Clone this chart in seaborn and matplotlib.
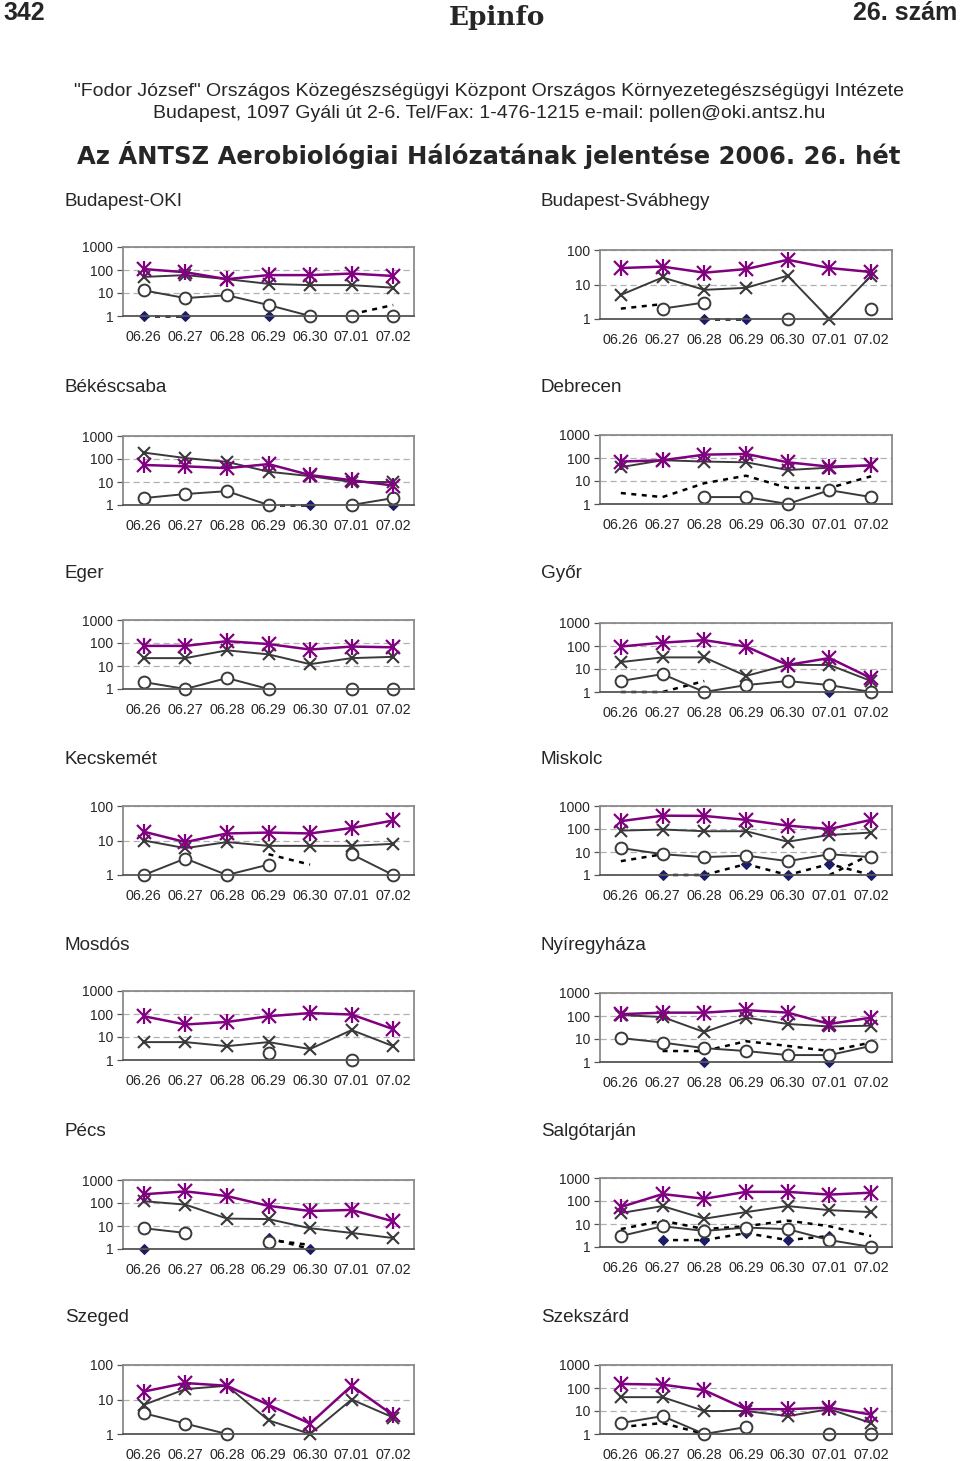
import numpy as np
import matplotlib
matplotlib.use("Agg")
import matplotlib.pyplot as plt
from matplotlib.ticker import NullLocator, FixedLocator
import seaborn as sns

nan = np.nan

# ---------------- data ----------------
dates = ["06.26", "06.27", "06.28", "06.29", "06.30", "07.01", "07.02"]

stations = ["Budapest-OKI", "Budapest-Svábhegy", "Békéscsaba", "Debrecen",
            "Eger", "Győr", "Kecskemét", "Miskolc", "Mosdós", "Nyíregyháza",
            "Pécs", "Salgótarján", "Szeged", "Szekszárd"]
y_top = [1000, 100, 1000, 1000, 1000, 1000, 100, 1000, 1000, 1000, 1000, 1000, 100, 1000]

# purple asterisk series
star_oki = [110, 80, 40, 60, 60, 70, 55]
star_svab = [30, 33, 22, 28, 52, 30, 23]
star_bekes = [55, 48, 40, 60, 20, 12, 7]
star_debr = [70, 80, 140, 150, 65, 42, 48]
star_eger = [75, 75, 120, 90, 52, 70, 65]
star_gyor = [95, 140, 180, 95, 15, 30, 4]
star_kecs = [18, 9, 16, 17, 16, 23, 38]
star_misk = [220, 380, 370, 250, 140, 100, 250]
star_mosd = [80, 35, 45, 80, 110, 95, 22]
star_nyir = [120, 140, 140, 180, 140, 45, 85]
star_pecs = [240, 320, 200, 75, 45, 50, 16]
star_salg = [55, 200, 125, 250, 250, 190, 230]
star_szeg = [17, 30, 25, 7, 2, 25, 3.5]
star_szek = [150, 140, 80, 12, 12, 14, 7]

# cross series
cross_oki = [50, 60, 40, 25, 22, 22, 17]
cross_svab = [5, 16, 7, 8, 18, 1, 18]
cross_bekes = [190, 110, 75, 28, 18, 10, 10]
cross_debr = [40, 80, 70, 65, 30, 38, 48]
cross_eger = [22, 22, 48, 32, 12, 22, 25]
cross_gyor = [20, 32, 32, 5, 15, 15, 3]
cross_kecs = [10, 6, 9, 7, 7, 7, 8]
cross_misk = [85, 95, 80, 80, 28, 55, 70]
cross_mosd = [6, 6, 4, 6, 3, 20, 4]
cross_nyir = [110, 90, 20, 85, 45, 35, 38]
cross_pecs = [120, 85, 21, 20, 8, 5, 3]
cross_salg = [30, 60, 17, 33, 60, 40, 33]
cross_szeg = [7, 20, 25, 2.5, 1, 10, 3]
cross_szek = [40, 40, 10, 10, 6, 12, 3]

# circle series
circ_oki = [13, 6, 8, 3, 1, 1, 1]
circ_svab = [nan, 2, 3, nan, 1, nan, 2]
circ_bekes = [2, 3, 4, 1, nan, 1, 2]
circ_debr = [nan, nan, 2, 2, 1, 4, 2]
circ_eger = [2, 1, 3, 1, nan, 1, 1]
circ_gyor = [3, 6, 1, 2, 3, 2, 1]
circ_kecs = [1, 3, 1, 2, nan, 4, 1]
circ_misk = [15, 8, 6, 7, 4, 8, 6]
circ_mosd = [nan, nan, nan, 2, nan, 1, nan]
circ_nyir = [11, 7, 4, 3, 2, 2, 5]
circ_pecs = [8, 5, nan, 2, nan, nan, nan]
circ_salg = [3, 8, 5, 7, 6, 2, 1]
circ_szeg = [4, 2, 1, nan, nan, nan, nan]
circ_szek = [3, 6, 1, 2, nan, 1, 1]

# dashed series (no markers)
dash_oki = [nan, nan, nan, nan, nan, 1.2, 3]
dash_svab = [2, 2.7, nan, nan, nan, nan, nan]
dash_bekes = [nan] * 7
dash_debr = [3, 2, 8, 17, 5, 5, 16]
dash_eger = [nan] * 7
dash_gyor = [1, 1, 3, nan, nan, nan, nan]
dash_kecs = [nan, nan, nan, 4, 2, nan, nan]
dash_misk = [4, 8, nan, nan, nan, 1, 8]
dash_mosd = [nan] * 7
dash_nyir = [nan, 3, 3, 8, 5, 3, 7]
dash_pecs = [nan, nan, nan, 2.5, 1.5, nan, nan]
dash_salg = [6, 14, 6, 8, 14, 8, 3]
dash_szeg = [nan] * 7
dash_szek = [2, 3, 1, nan, nan, nan, nan]

# diamond series (dashed line)
diam_oki = [1, 1, nan, 1, nan, nan, nan]
diam_svab = [nan, nan, 1, 1, nan, nan, nan]
diam_bekes = [nan, nan, nan, 1, 1, nan, 1]
diam_debr = [nan] * 7
diam_eger = [nan] * 7
diam_gyor = [nan, nan, nan, nan, nan, 1, nan]
diam_kecs = [nan] * 7
diam_misk = [nan, 1, 1, 3, 1, 3, 1]
diam_mosd = [nan] * 7
diam_nyir = [nan, nan, 1, nan, nan, 1, nan]
diam_pecs = [1, nan, nan, 3, 1, nan, nan]
diam_salg = [nan, 2, 2, 4, 2, 3, nan]
diam_szeg = [nan] * 7
diam_szek = [nan] * 7

star_all = [star_oki, star_svab, star_bekes, star_debr, star_eger, star_gyor, star_kecs,
            star_misk, star_mosd, star_nyir, star_pecs, star_salg, star_szeg, star_szek]
cross_all = [cross_oki, cross_svab, cross_bekes, cross_debr, cross_eger, cross_gyor, cross_kecs,
             cross_misk, cross_mosd, cross_nyir, cross_pecs, cross_salg, cross_szeg, cross_szek]
circ_all = [circ_oki, circ_svab, circ_bekes, circ_debr, circ_eger, circ_gyor, circ_kecs,
            circ_misk, circ_mosd, circ_nyir, circ_pecs, circ_salg, circ_szeg, circ_szek]
dash_all = [dash_oki, dash_svab, dash_bekes, dash_debr, dash_eger, dash_gyor, dash_kecs,
            dash_misk, dash_mosd, dash_nyir, dash_pecs, dash_salg, dash_szeg, dash_szek]
diam_all = [diam_oki, diam_svab, diam_bekes, diam_debr, diam_eger, diam_gyor, diam_kecs,
            diam_misk, diam_mosd, diam_nyir, diam_pecs, diam_salg, diam_szeg, diam_szek]

# ---------------- style ----------------
sns.set_style("white")
plt.rcParams["font.family"] = ["Liberation Sans", "DejaVu Sans"]

W, H = 960, 1461
fig = plt.figure(figsize=(W / 100, H / 100), dpi=100)

PURPLE = "#800080"
DARK = "#3a3a3a"
NAVY = "#1c1c66"


def runs(vals):
    segs, cur = [], []
    for i, v in enumerate(vals):
        if v is None or np.isnan(v):
            if cur:
                segs.append(cur)
                cur = []
        else:
            cur.append(i)
    if cur:
        segs.append(cur)
    return segs


def draw_series(ax, vals, **kw):
    for seg in runs(vals):
        sns.lineplot(x=seg, y=[vals[i] for i in seg], ax=ax, estimator=None,
                     errorbar=None, clip_on=False, **kw)


left_x, left_w = 123, 291
right_x, right_w = 600, 292
box_h = 69
tops_left = [247, 436, 620, 806, 991, 1180, 1365]
tops_right = [250, 435, 623, 806, 993, 1178, 1365]
title_y = [201, 387, 573, 759, 945, 1131, 1318]

for k, name in enumerate(stations):
    row, col = divmod(k, 2)
    if col == 0:
        x0, w, top, tx = left_x, left_w, tops_left[row], 65
    else:
        x0, w, top, tx = right_x, right_w, tops_right[row], 541
    ax = fig.add_axes([x0 / W, 1 - (top + box_h) / H, w / W, box_h / H])
    fig.text(tx / W, 1 - title_y[row] / H, name, fontsize=13.6, va="center", ha="left")

    ymax = y_top[k]
    ax.set_yscale("log")

    draw_series(ax, dash_all[k], color="black", lw=1.8, dashes=(2, 2.2))
    draw_series(ax, diam_all[k], color="black", lw=1.8, dashes=(2, 2.2),
                marker="D", markersize=5, markerfacecolor=NAVY, markeredgecolor=NAVY)
    draw_series(ax, circ_all[k], color=DARK, lw=1.4, marker="o", markersize=8.5,
                markerfacecolor="white", markeredgecolor=DARK, markeredgewidth=1.4)
    draw_series(ax, cross_all[k], color=DARK, lw=1.4, marker="x", markersize=9,
                markeredgewidth=1.5, markeredgecolor=DARK)
    draw_series(ax, star_all[k], color=PURPLE, lw=1.8, marker="x", markersize=9.5,
                markeredgewidth=1.6, markeredgecolor=PURPLE)
    for seg in runs(star_all[k]):
        sns.scatterplot(x=seg, y=[star_all[k][i] for i in seg], ax=ax, marker="|",
                        s=130, linewidth=1.6, color=PURPLE, clip_on=False, zorder=5)

    ax.set_xlim(-0.5, 6.5)
    ax.set_ylim(1, ymax)
    ticks = [1, 10, 100] + ([1000] if ymax == 1000 else [])
    ax.yaxis.set_major_locator(FixedLocator(ticks))
    ax.yaxis.set_minor_locator(NullLocator())
    ax.set_yticklabels([str(t) for t in ticks])
    ax.set_xticks(range(len(dates)))
    ax.set_xticklabels(dates)
    ax.xaxis.set_minor_locator(FixedLocator([i + 0.5 for i in range(-1, 7)]))
    ax.tick_params(axis="x", which="major", length=0, pad=10, labelsize=10.3)
    ax.tick_params(axis="x", which="minor", length=4, width=0.9, color="#555555",
                   direction="out")
    ax.tick_params(axis="y", which="major", length=4, width=0.9, color="#555555",
                   pad=3, labelsize=10, left=True)
    ax.yaxis.grid(True, which="major", color="#b0b0b0", lw=0.9, ls=(0, (5, 3)))
    ax.set_axisbelow(True)
    for s in ax.spines.values():
        s.set_color("#8a8a8a")
        s.set_linewidth(1.3)
    ax.spines["bottom"].set_color("#555555")
    ax.set_xlabel("")
    ax.set_ylabel("")

# ---------------- header ----------------
fig.text(3 / W, 1 - 13 / H, "342", fontsize=18, fontweight="bold", va="center", ha="left")
fig.text(957 / W, 1 - 13 / H, "26. szám", fontsize=18, fontweight="bold",
         va="center", ha="right")
fig.text(497 / W, 1 - 18 / H, "Epinfo", fontsize=19, fontweight="heavy",
         family=["DejaVu Serif"], va="center", ha="center")
fig.text(489 / W, 1 - 91 / H,
         "\"Fodor József\" Országos Közegészségügyi Központ Országos Környezetegészségügyi Intézete",
         fontsize=14, va="center", ha="center")
fig.text(489 / W, 1 - 114 / H,
         "Budapest, 1097 Gyáli út 2-6. Tel/Fax: 1-476-1215 e-mail: pollen@oki.antsz.hu",
         fontsize=14, va="center", ha="center")
fig.text(489 / W, 1 - 155 / H,
         "Az ÁNTSZ Aerobiológiai Hálózatának jelentése 2006. 26. hét",
         fontsize=17.5, fontweight="bold", family=["DejaVu Sans"], va="center", ha="center")

fig.savefig("out.png", dpi=100)
